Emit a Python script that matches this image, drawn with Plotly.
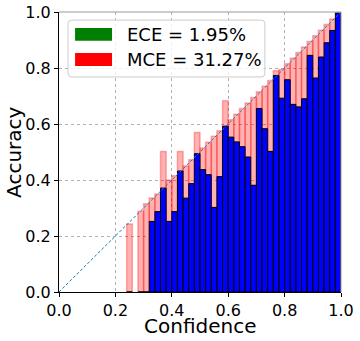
import plotly.graph_objects as go

# ---- data ----
bin_centers = [0.25, 0.29, 0.31, 0.33, 0.35, 0.37, 0.39, 0.41, 0.43, 0.45,
               0.47, 0.49, 0.51, 0.53, 0.55, 0.57, 0.59, 0.61, 0.63, 0.65,
               0.67, 0.69, 0.71, 0.73, 0.75, 0.77, 0.79, 0.81, 0.83, 0.85,
               0.87, 0.89, 0.91, 0.93, 0.95, 0.97, 0.99]
accuracy = [0.0, 0.0, 0.0, 0.252, 0.287, 0.371, 0.252, 0.287, 0.432, 0.335,
            0.387, 0.494, 0.437, 0.419, 0.302, 0.412, 0.592, 0.553, 0.536, 0.519,
            0.482, 0.381, 0.655, 0.583, 0.502, 0.773, 0.692, 0.758, 0.670, 0.661,
            0.690, 0.845, 0.764, 0.839, 0.890, 0.934, 0.996]
gap_top = [0.243, 0.288, 0.315, 0.336, 0.350, 0.502, 0.400, 0.415, 0.502, 0.450,
           0.472, 0.570, 0.514, 0.535, 0.556, 0.576, 0.683, 0.615, 0.635, 0.655,
           0.675, 0.695, 0.715, 0.735, 0.755, 0.790, 0.795, 0.815, 0.835, 0.855,
           0.875, 0.895, 0.915, 0.935, 0.955, 0.975, 0.998]
bin_width = 0.02
diag = [0.0, 1.0]
tick_vals = [0.0, 0.2, 0.4, 0.6, 0.8, 1.0]
tick_text = ["0.0", "0.2", "0.4", "0.6", "0.8", "1.0"]
legend_labels = ["ECE = 1.95%", "MCE = 31.27%"]
legend_colors = ["green", "red"]
x_title = "Confidence"
y_title = "Accuracy"

FONT = "DejaVu Sans"

gap_height = [t - a for t, a in zip(gap_top, accuracy)]

fig = go.Figure()
fig.add_trace(go.Bar(
    x=bin_centers, y=gap_height, base=accuracy, width=bin_width,
    marker=dict(color="rgba(255,0,0,0.3)",
                line=dict(color="rgba(255,0,0,0.3)", width=1.5)),
    showlegend=False, hoverinfo="skip"))
fig.add_trace(go.Bar(
    x=bin_centers, y=accuracy, width=bin_width,
    marker=dict(color="#0000ff", line=dict(color="black", width=1)),
    showlegend=False, hoverinfo="skip"))
fig.add_trace(go.Scatter(
    x=diag, y=diag, mode="lines",
    line=dict(color="#1f77b4", width=1, dash="3px,2px"),
    showlegend=False, hoverinfo="skip"))

axis_common = dict(
    range=[0, 1], tickvals=tick_vals, ticktext=tick_text,
    showgrid=True, gridcolor="#b0b0b0", griddash="dot", gridwidth=1,
    zeroline=False, showline=True, linecolor="black", linewidth=1,
    ticks="outside", ticklen=4, tickcolor="black", automargin=False,
    tickfont=dict(family=FONT, size=16, color="black"),
)

fig.update_layout(
    width=360, height=341,
    margin=dict(l=59, r=19, t=12, b=49),
    paper_bgcolor="white", plot_bgcolor="white",
    barmode="overlay", bargap=0,
    xaxis=dict(**axis_common),
    yaxis=dict(**axis_common),
    showlegend=False,
)

# axis titles
fig.add_annotation(xref="paper", yref="paper", x=0.5, y=-0.123, text=x_title,
                   showarrow=False, xanchor="center", yanchor="middle",
                   font=dict(family=FONT, size=20, color="black"))
fig.add_annotation(xref="paper", yref="paper", x=-0.16, y=0.5, text=y_title,
                   showarrow=False, xanchor="center", yanchor="middle", textangle=-90,
                   font=dict(family=FONT, size=20, color="black"))

# top / right frame lines (lighter)
fig.add_shape(type="line", xref="paper", yref="paper", x0=0, x1=1, y0=1, y1=1,
              line=dict(color="#999999", width=1))
fig.add_shape(type="line", xref="paper", yref="paper", x0=1, x1=1, y0=0, y1=1,
              line=dict(color="#999999", width=1))

# legend box (rounded)
lx0, lx1, ly0, ly1, r = 0.032, 0.730, 0.768, 0.971, 0.012
path = (f"M {lx0+r},{ly0} L {lx1-r},{ly0} Q {lx1},{ly0} {lx1},{ly0+r} "
        f"L {lx1},{ly1-r} Q {lx1},{ly1} {lx1-r},{ly1} L {lx0+r},{ly1} "
        f"Q {lx0},{ly1} {lx0},{ly1-r} L {lx0},{ly0+r} Q {lx0},{ly0} {lx0+r},{ly0} Z")
fig.add_shape(type="path", path=path, xref="paper", yref="paper",
              fillcolor="rgba(255,255,255,0.8)", line=dict(color="#cccccc", width=1))
patch_rows = [(0.897, 0.943, 0.920), (0.807, 0.854, 0.831)]
for (y0, y1, yc), col, lab in zip(patch_rows, legend_colors, legend_labels):
    fig.add_shape(type="rect", xref="paper", yref="paper", x0=0.057, x1=0.188,
                  y0=y0, y1=y1, fillcolor=col, line=dict(width=0))
    fig.add_annotation(xref="paper", yref="paper", x=0.234, y=yc, text=lab,
                       showarrow=False, xanchor="left", yanchor="middle",
                       font=dict(family=FONT, size=18, color="black"))

# remove the default 8px page margin so the figure sits at the window's corner
fig.write_html("out.html",
               config={"displayModeBar": False, "staticPlot": True},
               post_script="document.body.style.margin='0';document.body.style.overflow='hidden';")
